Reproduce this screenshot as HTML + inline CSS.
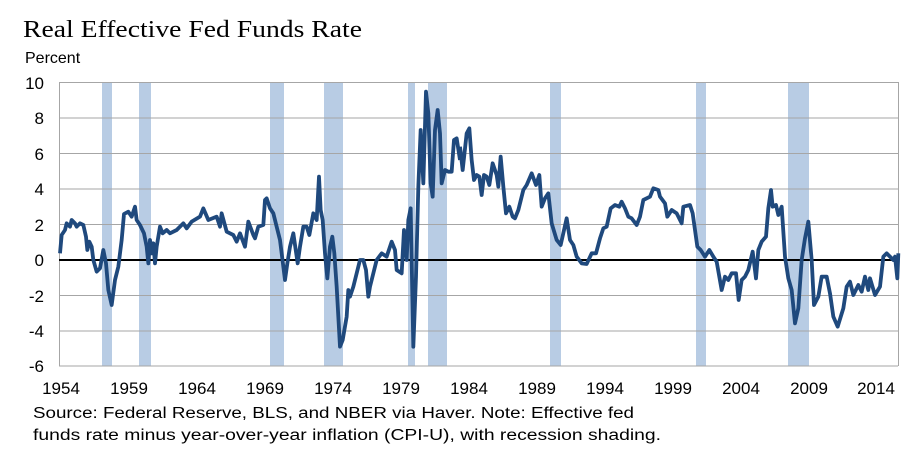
<!DOCTYPE html>
<html><head><meta charset="utf-8"><style>
html,body{margin:0;padding:0;background:#fff;}
svg{display:block;}
text{font-family:"Liberation Sans",Arial,sans-serif;fill:#000;}
</style></head><body>
<svg width="920" height="468" viewBox="0 0 920 468" xmlns="http://www.w3.org/2000/svg">
<text x="23" y="37" style="font-family:'Liberation Serif',serif;font-size:24px" textLength="339" lengthAdjust="spacingAndGlyphs">Real Effective Fed Funds Rate</text>
<text x="25" y="63" font-size="16">Percent</text>
<g fill="#b8cce4">
<rect x="102" y="82" width="10" height="284"/>
<rect x="139" y="82" width="12" height="284"/>
<rect x="270" y="82" width="14" height="284"/>
<rect x="324" y="82" width="19" height="284"/>
<rect x="408" y="82" width="7" height="284"/>
<rect x="428" y="82" width="19" height="284"/>
<rect x="550" y="82" width="11" height="284"/>
<rect x="696" y="82" width="10" height="284"/>
<rect x="788" y="82" width="21" height="284"/>
</g>
<g stroke="#a6a6a6" stroke-width="1">
<line x1="59" y1="82.5" x2="898" y2="82.5"/>
<line x1="59" y1="118" x2="898" y2="118"/>
<line x1="59" y1="153.5" x2="898" y2="153.5"/>
<line x1="59" y1="189" x2="898" y2="189"/>
<line x1="59" y1="224.5" x2="898" y2="224.5"/>
<line x1="59" y1="295.5" x2="898" y2="295.5"/>
<line x1="59" y1="331" x2="898" y2="331"/>
<line x1="59" y1="366" x2="898" y2="366"/>
<line x1="59.5" y1="82" x2="59.5" y2="366"/>
<line x1="898.5" y1="82" x2="898.5" y2="366"/>
</g>
<line x1="59" y1="260" x2="898" y2="260" stroke="#000" stroke-width="2"/>
<g font-size="17" text-anchor="end">
<text x="44" y="89">10</text><text x="44" y="124">8</text><text x="44" y="160">6</text>
<text x="44" y="195">4</text><text x="44" y="231">2</text><text x="44" y="266">0</text>
<text x="44" y="302">-2</text><text x="44" y="337">-4</text><text x="44" y="372">-6</text>
</g>
<g font-size="17" text-anchor="middle">
<text x="61" y="394">1954</text><text x="129" y="394">1959</text><text x="197" y="394">1964</text>
<text x="265" y="394">1969</text><text x="333" y="394">1974</text><text x="401" y="394">1979</text>
<text x="469" y="394">1984</text><text x="537" y="394">1989</text><text x="605" y="394">1994</text>
<text x="673" y="394">1999</text><text x="741" y="394">2004</text><text x="809" y="394">2009</text>
<text x="876" y="394">2014</text>
</g>
<g fill="none" stroke="#1f497d" stroke-width="3.8" stroke-linejoin="round">
<polyline vector-effect="non-scaling-stroke" transform="translate(0,60) scale(0.33333)" points="180,580 185,525 195,510 200,490 210,500 215,480 225,490 230,500 240,490 250,495 258,530 262,570 268,545 275,560 280,600 290,635 300,625 310,570 318,610 325,690 335,735 345,660 355,620 365,540 372,462 385,455 395,470 405,440 410,480 420,495 432,520 440,560 445,610 450,540 455,580 460,550 465,610 470,560 480,500 488,520 500,510 510,520 530,510 550,490 560,505 575,485 600,470 610,445 625,480 650,470 660,500 665,460 680,515 700,525 710,545 720,520 735,560 745,485 760,525 765,535 775,500 790,495 795,420 800,415 810,445 820,460 830,500 840,540 850,620 855,660 862,610 870,560 880,520 893,610 900,560 910,500 920,500 928,525 940,460 950,480 957,350 962,450 968,480 975,580 982,655 990,560 997,530 1003,580 1010,680 1020,860 1028,840 1040,770 1045,690 1050,710 1060,680 1070,640 1080,600 1090,600 1098,630 1105,710 1110,680 1120,640 1130,600 1145,580 1160,590 1175,545 1185,570 1190,630 1205,640 1212,510 1220,600 1225,480 1232,445 1240,860 1248,650 1255,380 1262,210 1270,370 1278,95 1285,160 1292,370 1298,410 1305,210 1313,150 1320,220 1325,370 1335,330 1345,335 1355,335 1362,240 1370,235 1380,300"/>
<polyline vector-effect="non-scaling-stroke" transform="translate(460,60) scale(0.33333)" points="0,260 8,330 20,220 28,205 35,300 42,360 50,345 58,350 65,405 72,345 80,350 88,375 98,310 110,345 115,380 122,290 130,380 138,460 148,440 158,470 165,475 175,450 190,390 200,375 215,340 228,375 238,345 245,440 255,415 265,400 275,490 290,540 302,555 320,475 330,540 340,555 350,590 365,610 380,612 395,580 408,580 420,535 430,505 440,500 452,445 465,435 478,440 485,425 495,445 505,470 515,475 530,495 540,470 550,420 570,410 580,385 595,390 600,410 615,430 622,470 635,450 650,460 665,490 670,440 690,435 698,460 712,560 722,570 735,590 748,570 760,590 770,605 785,690 795,650 805,660 815,640 828,640 836,720 845,660 855,650 865,630 878,575 888,655 895,570 905,545 918,530 925,445 933,390 938,440 948,435 955,465 965,440 975,590 985,655 995,690 1005,790 1015,745 1025,600 1035,535 1045,485 1055,600 1062,735 1075,710 1085,650 1100,650 1110,700 1120,770 1133,800 1150,745 1160,680 1170,665 1180,705 1195,675 1205,695 1215,650 1225,690 1230,655 1245,705 1260,680 1270,590 1280,580 1300,600 1305,590 1312,655 1315,580"/>
</g>
<text x="33" y="418" font-size="15.5" textLength="601" lengthAdjust="spacingAndGlyphs">Source: Federal Reserve, BLS, and NBER via Haver.  Note: Effective fed</text>
<text x="33" y="440" font-size="15.5" textLength="628" lengthAdjust="spacingAndGlyphs">funds rate minus year-over-year inflation (CPI-U), with recession shading.</text>
</svg>
</body></html>
